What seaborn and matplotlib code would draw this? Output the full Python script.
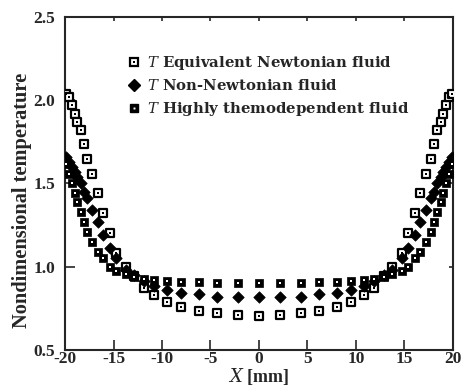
import matplotlib
matplotlib.use("Agg")
import matplotlib.pyplot as plt
import seaborn as sns
from matplotlib.lines import Line2D
from matplotlib.legend_handler import HandlerTuple

# ---- data ----
x_mm = [-19.85, -19.6, -19.25, -19.0, -18.8, -18.4, -18.0, -17.7, -17.2, -16.6,
        -16.1, -15.4, -14.7, -13.7, -12.9, -11.9, -10.8, -9.5, -8.0, -6.2, -4.3,
        -2.2, 0.0, 2.2, 4.3, 6.2, 8.0, 9.5, 10.8, 11.9, 12.9, 13.7, 14.7, 15.4,
        16.1, 16.6, 17.2, 17.7, 18.0, 18.4, 18.8, 19.0, 19.25, 19.6, 19.85]

t_newtonian = [2.04, 2.02, 1.97, 1.92, 1.87, 1.82, 1.74, 1.65, 1.555, 1.44,
               1.32, 1.20, 1.085, 1.0, 0.944, 0.87, 0.83, 0.787, 0.757, 0.735,
               0.72, 0.708, 0.705, 0.708, 0.72, 0.735, 0.757, 0.787, 0.83, 0.87,
               0.944, 1.0, 1.085, 1.20, 1.32, 1.44, 1.555, 1.65, 1.74, 1.82,
               1.87, 1.92, 1.97, 2.02, 2.04]

t_non_newtonian = [1.66, 1.63, 1.60, 1.57, 1.54, 1.50, 1.45, 1.41, 1.34, 1.27,
                   1.19, 1.11, 1.05, 0.98, 0.95, 0.915, 0.885, 0.86, 0.84, 0.835,
                   0.82, 0.82, 0.82, 0.82, 0.82, 0.835, 0.84, 0.86, 0.885, 0.915,
                   0.95, 0.98, 1.05, 1.11, 1.19, 1.27, 1.34, 1.41, 1.45, 1.50,
                   1.54, 1.57, 1.60, 1.63, 1.66]

t_highly = [1.62, 1.56, 1.50, 1.44, 1.39, 1.33, 1.27, 1.21, 1.15, 1.09,
            1.05, 1.0, 0.976, 0.955, 0.94, 0.927, 0.92, 0.913, 0.908, 0.908,
            0.905, 0.905, 0.905, 0.905, 0.905, 0.908, 0.908, 0.913, 0.92, 0.927,
            0.94, 0.955, 0.976, 1.0, 1.05, 1.09, 1.15, 1.21, 1.27, 1.33,
            1.39, 1.44, 1.50, 1.56, 1.62]

legend_labels = ["$T$ Equivalent Newtonian fluid",
                 "$T$ Non-Newtonian fluid",
                 "$T$ Highly themodependent fluid"]
x_ticks = [-20, -15, -10, -5, 0, 5, 10, 15, 20]
y_ticks = [0.5, 1.0, 1.5, 2.0, 2.5]
y_ticklabels = ["0.5", "1.0", "1.5", "2.0", "2.5"]

# ---- figure ----
sns.set_style("ticks")
plt.rcParams["font.family"] = ["Liberation Serif", "DejaVu Serif"]
plt.rcParams["mathtext.fontset"] = "dejavuserif"

fig = plt.figure(figsize=(4.62, 3.90), dpi=100)
ax = fig.add_axes([0.1407, 0.1026, 0.8398, 0.8538])

# Equivalent Newtonian: open squares with central dot
sns.scatterplot(x=x_mm, y=t_newtonian, ax=ax, marker="s", s=36, color="black",
                facecolor="white", edgecolor="black", linewidth=1.6, zorder=3)
sns.scatterplot(x=x_mm, y=t_newtonian, ax=ax, marker="s", s=2.5, color="black",
                edgecolor="black", linewidth=0, zorder=3.1)
# Non-Newtonian: filled diamonds
sns.scatterplot(x=x_mm, y=t_non_newtonian, ax=ax, marker="D", s=34, color="black",
                edgecolor="black", linewidth=0.5, zorder=4)
# Highly thermodependent: filled squares with white dot
sns.scatterplot(x=x_mm, y=t_highly, ax=ax, marker="s", s=38, color="black",
                edgecolor="black", linewidth=0.5, zorder=5)
sns.scatterplot(x=x_mm, y=t_highly, ax=ax, marker="s", s=2.0, color="white",
                edgecolor="white", linewidth=0, zorder=5.1)

ax.set_xlim(-20, 20)
ax.set_ylim(0.5, 2.5)
ax.set_xticks(x_ticks)
ax.set_xticklabels([str(v) for v in x_ticks])
ax.set_yticks(y_ticks)
ax.set_yticklabels(y_ticklabels)

for s in ax.spines.values():
    s.set_linewidth(1.5)
    s.set_visible(True)
ax.tick_params(axis="both", which="major", direction="in", length=7, width=1.2,
               labelsize=12.5, top=True, right=True)
ax.tick_params(axis="x", pad=1)
ax.tick_params(axis="y", pad=7)
# shorter marks on the top and right spines
for t in ax.xaxis.get_major_ticks():
    t.tick2line.set_markersize(3)
for t in ax.yaxis.get_major_ticks():
    t.tick2line.set_markersize(3)
for lab in ax.get_xticklabels() + ax.get_yticklabels():
    lab.set_fontweight("bold")

ax.set_ylabel("Nondimensional temperature", fontsize=14.7, fontweight="bold")
ax.yaxis.set_label_coords(-0.084, 0.45)
ax.set_xlabel("$X$ [mm]", fontsize=13, fontweight="bold", labelpad=-1)

# legend proxies
h1 = (Line2D([], [], ls="none", marker="s", ms=5.8, mfc="white", mec="black", mew=1.6),
      Line2D([], [], ls="none", marker="s", ms=1.5, mfc="black", mec="black", mew=0))
h2 = Line2D([], [], ls="none", marker="D", ms=5.8, mfc="black", mec="black")
h3 = (Line2D([], [], ls="none", marker="s", ms=6.2, mfc="black", mec="black"),
      Line2D([], [], ls="none", marker="s", ms=1.4, mfc="white", mec="white", mew=0))
leg = ax.legend([h1, h2, h3], legend_labels,
                handler_map={tuple: HandlerTuple(ndivide=1)},
                loc="upper left", bbox_to_anchor=(0.144, 0.906), frameon=False,
                handlelength=1.0, handletextpad=0.35, labelspacing=0.42,
                prop={"family": "DejaVu Serif", "weight": "bold", "size": 10.7},
                borderaxespad=0)

fig.savefig("out.png", dpi=100)
